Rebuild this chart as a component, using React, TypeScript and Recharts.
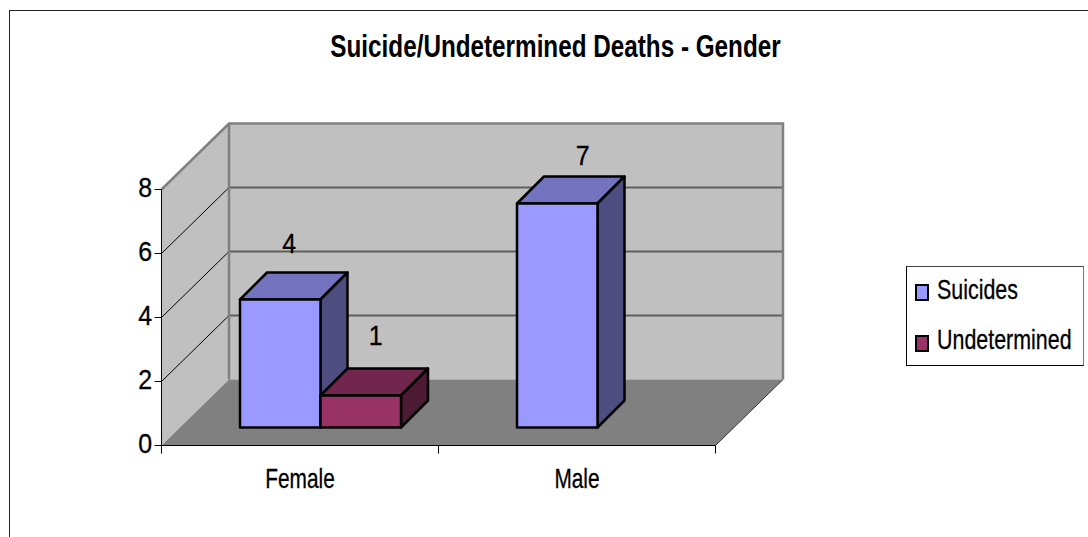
import { BarChart, Bar, XAxis, YAxis, ReferenceArea, Legend, LabelList } from "recharts";

const categories = ["Female", "Male"];
const suicides = [4, 7];
const undetermined: (number | null)[] = [1, null];
const yTicks = [0, 2, 4, 6, 8];

const chartData = categories.map((name, i) => ({
  name,
  Suicides: suicides[i],
  Undetermined: undetermined[i],
}));

const FONT = "'Liberation Sans', Arial, sans-serif";
// wall depth and where the bars sit inside the floor
const WALL_DX = 67.5;
const WALL_DY = -66;
const BAR_DX = 20.5;
const BAR_DY = -18;
const CUBE = 27;
const SQUEEZE = 0.745;
const DIGIT_SQUEEZE = 0.89;

// the data labels in the picture were placed by hand, not centred
const labelNudge: Record<string, { dx: number; y: number }> = {
  "Suicides-0": { dx: 9, y: 253 },
  "Suicides-1": { dx: 25.5, y: 165 },
  "Undetermined-0": { dx: 15, y: 345 },
};

const Squeezed = ({ x, y, anchor, squeeze = SQUEEZE, children }: any) => (
  <text
    transform={`translate(${x} ${y}) scale(${squeeze} 1)`}
    textAnchor={anchor}
    fontFamily={FONT}
    fontSize={28}
    fill="#000"
    stroke="#000"
    strokeWidth={0.3}
  >
    {children}
  </text>
);

const Room = ({ x, y, width, height }: any) => {
  const bottom = y + height;
  const right = x + width;
  const bx = x + WALL_DX;
  return (
    <g>
      <polygon
        points={`${x},${y} ${bx},${y + WALL_DY} ${bx},${bottom + WALL_DY} ${x},${bottom}`}
        fill="#c0c0c0"
      />
      <rect x={bx} y={y + WALL_DY} width={width} height={height} fill="#c0c0c0" />
      <polygon
        points={`${x},${bottom} ${right},${bottom} ${right + WALL_DX},${bottom + WALL_DY} ${bx},${bottom + WALL_DY}`}
        fill="#808080"
      />
      {yTicks.slice(1, -1).map((t) => {
        const gy = bottom - (t / 8) * height;
        return (
          <g key={t}>
            <line x1={x} y1={gy} x2={bx} y2={gy + WALL_DY} stroke="#000" strokeWidth={1} />
            <line x1={bx} y1={gy + WALL_DY} x2={bx + width} y2={gy + WALL_DY} stroke="#606060" strokeWidth={2} />
          </g>
        );
      })}
      <path
        d={`M${x},${y} L${bx},${y + WALL_DY} L${bx + width},${y + WALL_DY} L${bx + width},${bottom + WALL_DY} M${bx},${y + WALL_DY} L${bx},${bottom + WALL_DY}`}
        fill="none"
        stroke="#808080"
        strokeWidth={2.5}
      />
      <line x1={right} y1={bottom} x2={right + WALL_DX} y2={bottom + WALL_DY} stroke="#333" strokeWidth={1} />
    </g>
  );
};

const Block = ({ x, y, width, height, front, top, side }: any) => {
  if (!height) return null;
  const l = x + BAR_DX;
  const r = l + width;
  const t = y + BAR_DY;
  const b = t + height;
  return (
    <g stroke="#000" strokeWidth={2.5} strokeLinejoin="round">
      <polygon points={`${l},${t} ${r},${t} ${r + CUBE},${t - CUBE} ${l + CUBE},${t - CUBE}`} fill={top} />
      <polygon points={`${r},${t} ${r + CUBE},${t - CUBE} ${r + CUBE},${b - CUBE} ${r},${b}`} fill={side} />
      <rect x={l} y={t} width={width} height={height} fill={front} />
    </g>
  );
};

const valueLabel = (series: string) => (props: any) => {
  const { x, width, value, index } = props;
  const nudge = labelNudge[`${series}-${index}`];
  if (value == null || !nudge) return null;
  return (
    <Squeezed x={x + BAR_DX + width / 2 + nudge.dx} y={nudge.y} anchor="middle" squeeze={DIGIT_SQUEEZE}>
      {value}
    </Squeezed>
  );
};

const YTick = ({ x, y, payload }: any) => (
  <Squeezed x={x - 0.5} y={y + 7.5} anchor="end" squeeze={DIGIT_SQUEEZE}>
    {payload.value}
  </Squeezed>
);

const XTick = ({ x, y, payload, index }: any) => (
  <g>
    <line x1={x - 138.5} y1={y - 8} x2={x - 138.5} y2={y} stroke="#000" />
    {index === categories.length - 1 && <line x1={x + 138.5} y1={y - 8} x2={x + 138.5} y2={y} stroke="#000" />}
    <Squeezed x={x} y={y + 34} anchor="middle">
      {payload.value}
    </Squeezed>
  </g>
);

const LegendBox = ({ payload }: any) => (
  <div style={{ position: "absolute", left: 0, top: 0, width: 178, height: 100, boxSizing: "border-box", border: "1px solid #000", borderRightColor: "#777", borderTopColor: "#444", background: "#fff", fontFamily: FONT, fontSize: 28 }}>
    {(payload || []).map((item: any, i: number) => (
      <div key={item.value}>
        <span
          style={{ position: "absolute", left: 8, top: 17 + i * 51, width: 10, height: 13, border: "2px solid #000", background: item.color }}
        />
        <span
          style={{ position: "absolute", left: 30, top: 8 + i * 50, lineHeight: "30px", whiteSpace: "nowrap", transform: `scaleX(${SQUEEZE + 0.02})`, transformOrigin: "left", WebkitTextStroke: "0.3px #000" }}
        >
          {item.value}
        </span>
      </div>
    ))}
  </div>
);

export default function App() {
  return (
    <div style={{ position: "absolute", left: 0, top: 0, width: 1088, height: 537, overflow: "hidden", background: "#fff" }}>
      <div style={{ position: "absolute", left: 9, top: 9.5, width: 1100, height: 560, border: "1.5px solid #222" }} />
      <BarChart
        width={1088}
        height={537}
        data={chartData}
        barSize={80.5}
        barGap={0}
        margin={{ top: 189.5, right: 372.5, bottom: 31.5, left: 101.5 }}
        style={{ position: "absolute", left: 0, top: 0 }}
      >
        <text
          transform="translate(555.5 57) scale(0.783 1)"
          textAnchor="middle"
          fontFamily={FONT}
          fontSize={31}
          fontWeight="bold"
        >
          Suicide/Undetermined Deaths - Gender
        </text>
        <ReferenceArea y1={0} y2={8} shape={<Room />} ifOverflow="visible" />
        <XAxis dataKey="name" height={60} tickLine={false} axisLine={{ stroke: "#000" }} tick={<XTick />} interval={0} />
        <YAxis
          width={60}
          domain={[0, 8]}
          ticks={yTicks}
          tickSize={7}
          tickLine={{ stroke: "#000" }}
          axisLine={{ stroke: "#000" }}
          tick={<YTick />}
        />
        <Legend
          layout="vertical"
          content={<LegendBox />}
          wrapperStyle={{ left: 906, top: 266, width: 0, height: 0, bottom: "auto", right: "auto" }}
        />
        <Bar
          dataKey="Suicides"
          fill="#9999ff"
          isAnimationActive={false}
          shape={(p: any) => <Block {...p} front="#9999ff" top="#7373bf" side="#4d4d80" />}
        >
          <LabelList dataKey="Suicides" content={valueLabel("Suicides")} />
        </Bar>
        <Bar
          dataKey="Undetermined"
          fill="#993366"
          isAnimationActive={false}
          shape={(p: any) => <Block {...p} front="#993366" top="#73264d" side="#4d1a33" />}
        >
          <LabelList dataKey="Undetermined" content={valueLabel("Undetermined")} />
        </Bar>
      </BarChart>
    </div>
  );
}
